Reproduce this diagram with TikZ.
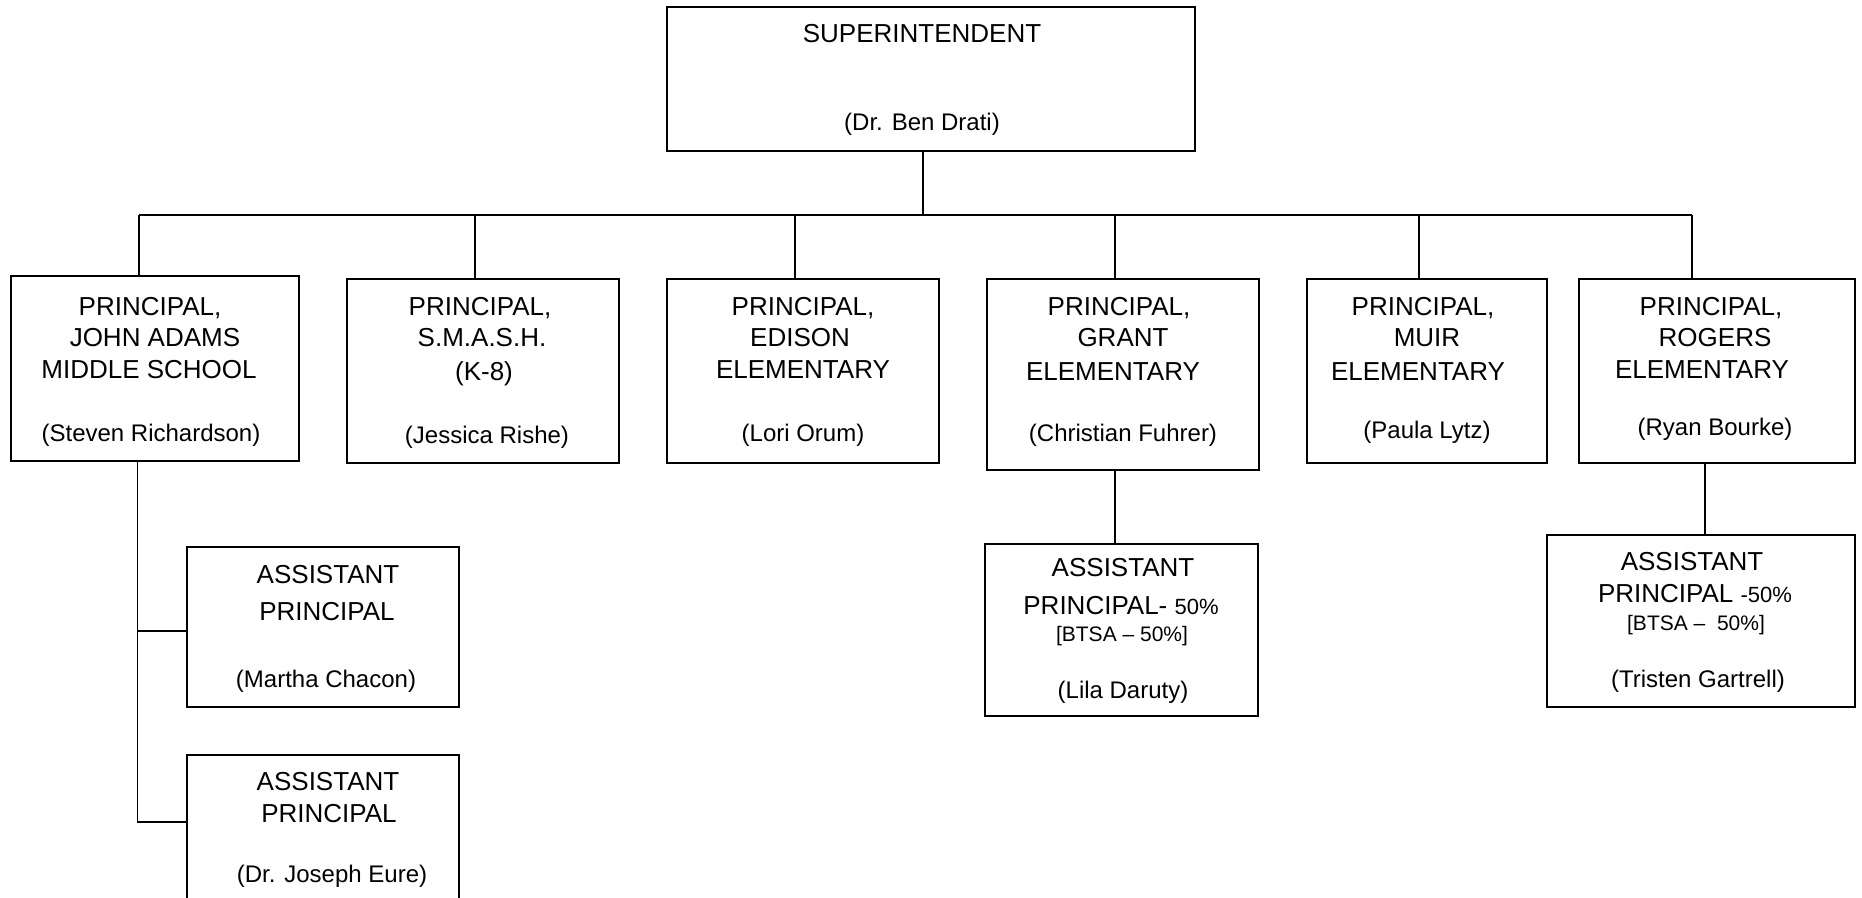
\documentclass[tikz,border=0pt]{standalone}
\usepackage{fontspec}
\setmainfont{Liberation Sans}
\begin{document}
\begin{tikzpicture}[x=1pt,y=-1pt,
  box/.style={draw, line width=2pt, inner sep=0pt, outer sep=0pt, anchor=north west},
  openbox/.style={inner sep=0pt, outer sep=0pt, anchor=north west},
  conn/.style={line width=1.6pt},
  busline/.style={line width=2pt},
  bigtxt/.style={anchor=base, inner sep=0pt, font=\fontsize{26}{30}\selectfont},
  nametxt/.style={anchor=base, inner sep=0pt, font=\fontsize{24}{28}\selectfont},
  smalltxt/.style={anchor=base, inner sep=0pt, font=\fontsize{21}{24}\selectfont}]
\useasboundingbox (0,0) rectangle (1862,897);

% boxes
\node[box, minimum width=528pt, minimum height=144pt] (sup) at (667,7) {};
\node[box, minimum width=287.8pt, minimum height=184.7pt] (p1) at (10.8,276) {};
\node[box, minimum width=272.2pt, minimum height=184.6pt] (p2) at (346.5,278.7) {};
\node[box, minimum width=272.1pt, minimum height=184.6pt] (p3) at (666.7,278.7) {};
\node[box, minimum width=272.1pt, minimum height=191.3pt] (p4) at (986.7,278.7) {};
\node[box, minimum width=240.3pt, minimum height=184.6pt] (p5) at (1306.9,278.7) {};
\node[box, minimum width=276pt, minimum height=184.6pt] (p6) at (1579,278.7) {};
\node[box, minimum width=271.6pt, minimum height=160pt] (ap1) at (187,546.7) {};
\node[openbox, minimum width=271.6pt, minimum height=150pt] (ap2) at (187,755) {};
\draw[line width=2pt] (ap2.south west) -- (ap2.north west) -- (ap2.north east) -- (ap2.south east);
\node[box, minimum width=272.7pt, minimum height=172pt] (ap4) at (984.9,544) {};
\node[box, minimum width=308.4pt, minimum height=171.7pt] (ap6) at (1546.6,535) {};

% connectors
\coordinate (busL) at (139,215);
\coordinate (busR) at (1692,215);
\coordinate (supd) at (923,215);
\coordinate (d2) at (475,215);
\coordinate (d3) at (795,215);
\coordinate (d4) at (1115,215);
\coordinate (d5) at (1419,215);
\draw[busline] (supd |- sup.south) -- (supd);
\draw[busline] (busL) -- (busR);
\draw[conn] (busL) -- (busL |- p1.north);
\draw[conn] (d2) -- (d2 |- p2.north);
\draw[conn] (d3) -- (d3 |- p3.north);
\draw[conn] (d4) -- (d4 |- p4.north);
\draw[conn] (d5) -- (d5 |- p5.north);
\draw[conn] (busR) -- (busR |- p6.north);

\coordinate (v1) at (137.3,822.3);
\coordinate (h1) at (137.3,630.7);
\draw[conn] (v1 |- p1.south) -- (v1);
\draw[busline] (h1) -- (h1 -| ap1.west);
\draw[busline] (v1) -- (v1 -| ap2.west);
\coordinate (gx) at (1115,500);
\draw[conn] (gx |- p4.south) -- (gx |- ap4.north);
\coordinate (rx) at (1705,500);
\draw[conn] (rx |- p6.south) -- (rx |- ap6.north);

% texts
\node[bigtxt] (t0a) at (922,42) {SUPERINTENDENT};
\node[nametxt] (t0b) at (922,130) {(Dr. Ben Drati)};

\node[bigtxt] (t1a) at (150,315) {PRINCIPAL,};
\node[bigtxt] (t1b) at (155,346) {JOHN ADAMS};
\node[bigtxt] (t1c) at (149,378) {MIDDLE SCHOOL};
\node[nametxt] (t1d) at (151,441) {(Steven Richardson)};

\node[bigtxt] (t2a) at (480,315) {PRINCIPAL,};
\node[bigtxt] (t2b) at (482,346) {S.M.A.S.H.};
\node[bigtxt] (t2c) at (484,380) {(K-8)};
\node[nametxt] (t2d) at (487,443) {(Jessica Rishe)};

\node[bigtxt] (t3a) at (803,315) {PRINCIPAL,};
\node[bigtxt] (t3b) at (800,346) {EDISON};
\node[bigtxt] (t3c) at (803,378) {ELEMENTARY};
\node[nametxt] (t3d) at (803,441) {(Lori Orum)};

\node[bigtxt] (t4a) at (1119,315) {PRINCIPAL,};
\node[bigtxt] (t4b) at (1123,346) {GRANT};
\node[bigtxt] (t4c) at (1113,380) {ELEMENTARY};
\node[nametxt] (t4d) at (1123,441) {(Christian Fuhrer)};

\node[bigtxt] (t5a) at (1423,315) {PRINCIPAL,};
\node[bigtxt] (t5b) at (1427,346) {MUIR};
\node[bigtxt] (t5c) at (1418,380) {ELEMENTARY};
\node[nametxt] (t5d) at (1427,438) {(Paula Lytz)};

\node[bigtxt] (t6a) at (1711,315) {PRINCIPAL,};
\node[bigtxt] (t6b) at (1715,346) {ROGERS};
\node[bigtxt] (t6c) at (1702,378) {ELEMENTARY};
\node[nametxt] (t6d) at (1715,435) {(Ryan Bourke)};

\node[bigtxt] (a1a) at (328,583) {ASSISTANT};
\node[bigtxt] (a1b) at (327,620) {PRINCIPAL};
\node[nametxt] (a1c) at (326,687) {(Martha Chacon)};

\node[bigtxt] (a2a) at (328,790) {ASSISTANT};
\node[bigtxt] (a2b) at (329,822) {PRINCIPAL};
\node[nametxt] (a2c) at (332,882) {(Dr. Joseph Eure)};

\node[bigtxt] (a4a) at (1123,576) {ASSISTANT};
\node[bigtxt] (a4b) at (1121,614) {PRINCIPAL- {\fontsize{22}{26}\selectfont 50\%}};
\node[smalltxt] (a4c) at (1122,641) {[BTSA -- 50\%]};
\node[nametxt] (a4d) at (1123,698) {(Lila Daruty)};

\node[bigtxt] (a6a) at (1692,570) {ASSISTANT};
\node[bigtxt] (a6b) at (1695,602) {PRINCIPAL {\fontsize{22}{26}\selectfont -50\%}};
\node[smalltxt] (a6c) at (1696,630) {[BTSA --\ \ 50\%]};
\node[nametxt] (a6d) at (1698,687) {(Tristen Gartrell)};
\end{tikzpicture}
\end{document}
